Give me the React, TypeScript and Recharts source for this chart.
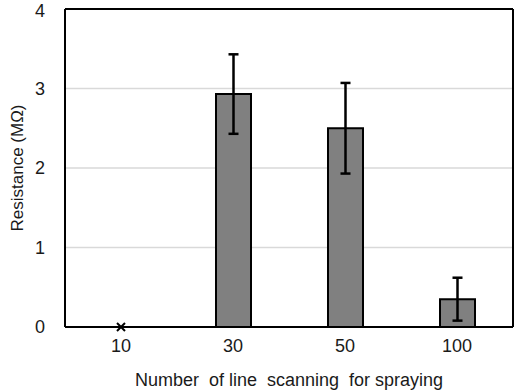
import React from 'react';
import { ComposedChart, Bar, Scatter, XAxis, YAxis, CartesianGrid, ErrorBar, Label } from 'recharts';

const categories = ['10', '30', '50', '100'];
const resistance: (number | null)[] = [null, 2.93, 2.5, 0.35];
const errors: (number | null)[] = [null, 0.5, 0.57, 0.27];
const markers: (number | null)[] = [0, null, null, null];
const yTicks = [0, 1, 2, 3, 4];
const xTitle = 'Number\u00A0 of line\u00A0 scanning\u00A0 for spraying';
const yTitle = 'Resistance (MΩ)';

const data = categories.map((c, i) => ({
  cat: c,
  value: resistance[i],
  err: errors[i],
  marker: markers[i],
}));

const FONT = '"Liberation Sans", Arial, sans-serif';

const Cross = (props: any) => {
  const { cx, cy } = props;
  if (cx == null || cy == null) return null;
  const s = 4;
  return (
    <path
      d={`M${cx - s},${cy - s}L${cx + s},${cy + s}M${cx - s},${cy + s}L${cx + s},${cy - s}`}
      stroke="#000"
      strokeWidth={2}
      fill="none"
    />
  );
};

export default function App() {
  return (
    <div style={{ position: 'absolute', left: 0, top: 0, background: '#fff' }}>
      <ComposedChart
        width={521}
        height={391}
        data={data}
        margin={{ top: 8, right: 7, bottom: 0, left: 0 }}
        style={{ fontFamily: FONT }}
      >
        <CartesianGrid vertical={false} stroke="#d9d9d9" strokeWidth={1.5} />
        <XAxis
          dataKey="cat"
          height={64}
          tickLine={false}
          axisLine={{ stroke: '#000', strokeWidth: 2 }}
          tick={{ fill: '#1a1a1a', fontSize: 18 }}
          tickMargin={6}
        >
          <Label value={xTitle} position="insideBottom" offset={5} style={{ fontSize: 18, fill: '#1a1a1a' }} />
        </XAxis>
        <XAxis
          xAxisId="top"
          dataKey="cat"
          orientation="top"
          height={1}
          tick={false}
          tickLine={false}
          axisLine={{ stroke: '#000', strokeWidth: 2 }}
        />
        <YAxis
          width={65}
          domain={[0, 4]}
          ticks={yTicks}
          tickLine={false}
          axisLine={{ stroke: '#000', strokeWidth: 2 }}
          tick={{ fill: '#1a1a1a', fontSize: 18 }}
          tickMargin={14}
        >
          <Label value={yTitle} angle={-90} position="center" dx={-16} style={{ fontSize: 17, fill: '#1a1a1a', textAnchor: 'middle' }} />
        </YAxis>
        <YAxis
          yAxisId="right"
          orientation="right"
          width={1}
          domain={[0, 4]}
          ticks={yTicks}
          tick={false}
          tickLine={false}
          axisLine={{ stroke: '#000', strokeWidth: 2 }}
        />
        <Bar dataKey="value" fill="#808080" stroke="#000" strokeWidth={2} barSize={35} isAnimationActive={false}>
          <ErrorBar dataKey="err" width={5} stroke="#000" strokeWidth={2.5} direction="y" />
        </Bar>
        <Scatter dataKey="marker" xAxisId="top" yAxisId="right" shape={<Cross />} isAnimationActive={false} />
      </ComposedChart>
    </div>
  );
}
